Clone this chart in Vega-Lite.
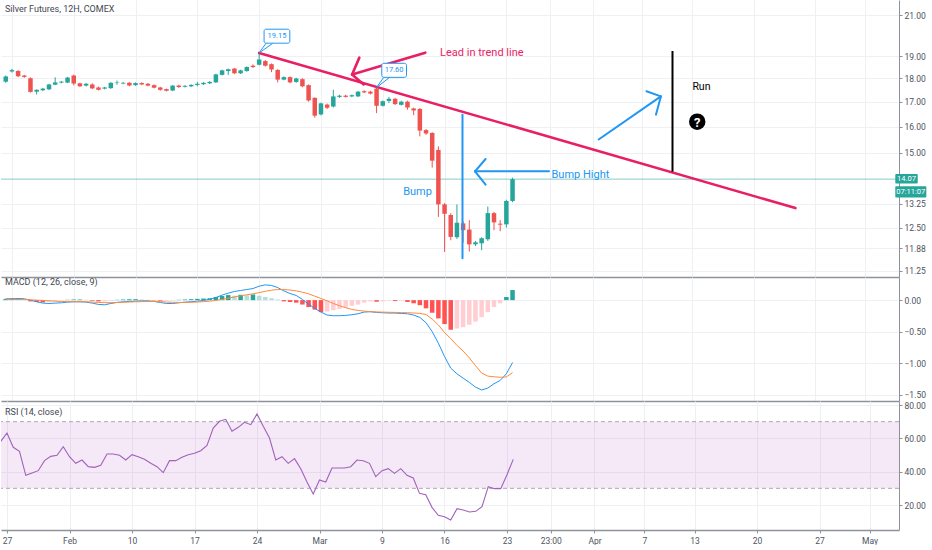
{
  "$schema": "https://vega.github.io/schema/vega-lite/v6.json",
  "background": "white",
  "padding": 0,
  "spacing": 0,
  "config": {
    "view": {"stroke": null},
    "font": "Liberation Sans Narrow, Roboto",
    "axis": {
      "labelFont": "Liberation Sans Narrow, Roboto",
      "labelFontSize": 8.5,
      "labelColor": "#50535e",
      "gridColor": "#eef0f4",
      "domainColor": "#8f929b",
      "tickColor": "#8f929b",
      "labelOverlap": false
    },
    "title": {
      "font": "Liberation Sans Narrow, Roboto",
      "fontSize": 9,
      "fontWeight": "normal",
      "color": "#434651",
      "anchor": "start",
      "frame": "group",
      "baseline": "bottom"
    },
    "text": {"font": "Liberation Sans Narrow, Roboto"}
  },
  "datasets": {
    "candles": [
      {"i": -1, "o": 17.85, "h": 18.12, "l": 17.80, "c": 18.08},
      {"i": 0, "o": 18.30, "h": 18.42, "l": 18.25, "c": 18.36},
      {"i": 1, "o": 18.32, "h": 18.36, "l": 18.05, "c": 18.09},
      {"i": 2, "o": 18.12, "h": 18.15, "l": 18.02, "c": 18.06},
      {"i": 3, "o": 18.00, "h": 18.04, "l": 17.38, "c": 17.41},
      {"i": 4, "o": 17.42, "h": 17.52, "l": 17.30, "c": 17.50},
      {"i": 5, "o": 17.48, "h": 17.58, "l": 17.44, "c": 17.55},
      {"i": 6, "o": 17.52, "h": 17.76, "l": 17.49, "c": 17.73},
      {"i": 7, "o": 17.72, "h": 18.04, "l": 17.70, "c": 17.82},
      {"i": 8, "o": 17.81, "h": 17.88, "l": 17.78, "c": 17.85},
      {"i": 9, "o": 17.81, "h": 18.06, "l": 17.79, "c": 18.03},
      {"i": 10, "o": 18.12, "h": 18.16, "l": 17.69, "c": 17.77},
      {"i": 11, "o": 17.78, "h": 17.80, "l": 17.62, "c": 17.65},
      {"i": 12, "o": 17.68, "h": 17.80, "l": 17.64, "c": 17.76},
      {"i": 13, "o": 17.73, "h": 17.78, "l": 17.53, "c": 17.56},
      {"i": 14, "o": 17.60, "h": 17.64, "l": 17.47, "c": 17.50},
      {"i": 15, "o": 17.55, "h": 17.63, "l": 17.52, "c": 17.60},
      {"i": 16, "o": 17.57, "h": 17.83, "l": 17.54, "c": 17.80},
      {"i": 17, "o": 17.79, "h": 17.90, "l": 17.72, "c": 17.81},
      {"i": 18, "o": 17.77, "h": 17.84, "l": 17.74, "c": 17.80},
      {"i": 19, "o": 17.80, "h": 17.83, "l": 17.65, "c": 17.68},
      {"i": 20, "o": 17.70, "h": 17.82, "l": 17.67, "c": 17.79},
      {"i": 21, "o": 17.79, "h": 17.82, "l": 17.70, "c": 17.73},
      {"i": 22, "o": 17.76, "h": 17.79, "l": 17.65, "c": 17.68},
      {"i": 23, "o": 17.70, "h": 17.73, "l": 17.56, "c": 17.59},
      {"i": 24, "o": 17.60, "h": 17.63, "l": 17.46, "c": 17.50},
      {"i": 25, "o": 17.53, "h": 17.55, "l": 17.43, "c": 17.46},
      {"i": 26, "o": 17.47, "h": 17.70, "l": 17.44, "c": 17.68},
      {"i": 27, "o": 17.68, "h": 17.72, "l": 17.58, "c": 17.62},
      {"i": 28, "o": 17.63, "h": 17.70, "l": 17.60, "c": 17.67},
      {"i": 29, "o": 17.65, "h": 17.74, "l": 17.62, "c": 17.71},
      {"i": 30, "o": 17.71, "h": 17.84, "l": 17.65, "c": 17.76},
      {"i": 31, "o": 17.74, "h": 17.83, "l": 17.71, "c": 17.80},
      {"i": 32, "o": 17.78, "h": 17.88, "l": 17.75, "c": 17.84},
      {"i": 33, "o": 17.82, "h": 18.20, "l": 17.80, "c": 18.17},
      {"i": 34, "o": 18.15, "h": 18.38, "l": 18.12, "c": 18.35},
      {"i": 35, "o": 18.32, "h": 18.43, "l": 18.15, "c": 18.40},
      {"i": 36, "o": 18.43, "h": 18.46, "l": 18.19, "c": 18.22},
      {"i": 37, "o": 18.22, "h": 18.38, "l": 18.19, "c": 18.35},
      {"i": 38, "o": 18.32, "h": 18.53, "l": 18.29, "c": 18.50},
      {"i": 39, "o": 18.56, "h": 18.62, "l": 18.46, "c": 18.50},
      {"i": 40, "o": 18.60, "h": 19.15, "l": 18.57, "c": 18.84},
      {"i": 41, "o": 18.77, "h": 18.82, "l": 18.52, "c": 18.56},
      {"i": 42, "o": 18.63, "h": 18.66, "l": 18.27, "c": 18.39},
      {"i": 43, "o": 18.37, "h": 18.40, "l": 17.82, "c": 17.94},
      {"i": 44, "o": 17.94, "h": 18.08, "l": 17.91, "c": 18.05},
      {"i": 45, "o": 18.05, "h": 18.08, "l": 17.78, "c": 17.82},
      {"i": 46, "o": 17.84, "h": 18.02, "l": 17.80, "c": 17.99},
      {"i": 47, "o": 17.96, "h": 18.00, "l": 17.61, "c": 17.65},
      {"i": 48, "o": 17.70, "h": 17.73, "l": 17.00, "c": 17.05},
      {"i": 49, "o": 17.16, "h": 17.18, "l": 16.35, "c": 16.43},
      {"i": 50, "o": 16.48, "h": 16.96, "l": 16.44, "c": 16.93},
      {"i": 51, "o": 16.88, "h": 16.92, "l": 16.70, "c": 16.75},
      {"i": 52, "o": 16.80, "h": 17.50, "l": 16.76, "c": 17.22},
      {"i": 53, "o": 17.20, "h": 17.29, "l": 17.16, "c": 17.25},
      {"i": 54, "o": 17.25, "h": 17.29, "l": 17.17, "c": 17.20},
      {"i": 55, "o": 17.22, "h": 17.30, "l": 17.19, "c": 17.27},
      {"i": 56, "o": 17.22, "h": 17.45, "l": 17.19, "c": 17.42},
      {"i": 57, "o": 17.44, "h": 17.48, "l": 17.36, "c": 17.39},
      {"i": 58, "o": 17.42, "h": 17.46, "l": 17.30, "c": 17.34},
      {"i": 59, "o": 17.55, "h": 17.60, "l": 16.53, "c": 16.83},
      {"i": 60, "o": 16.83, "h": 17.05, "l": 16.80, "c": 17.02},
      {"i": 61, "o": 17.03, "h": 17.20, "l": 16.94, "c": 17.12},
      {"i": 62, "o": 17.12, "h": 17.16, "l": 16.86, "c": 16.90},
      {"i": 63, "o": 16.87, "h": 17.04, "l": 16.84, "c": 17.00},
      {"i": 64, "o": 17.00, "h": 17.04, "l": 16.67, "c": 16.76},
      {"i": 65, "o": 16.72, "h": 16.75, "l": 16.45, "c": 16.64},
      {"i": 66, "o": 16.70, "h": 16.74, "l": 15.62, "c": 15.84},
      {"i": 67, "o": 15.86, "h": 15.90, "l": 15.68, "c": 15.73},
      {"i": 68, "o": 15.75, "h": 15.78, "l": 14.47, "c": 14.72},
      {"i": 69, "o": 15.11, "h": 15.24, "l": 12.83, "c": 13.23},
      {"i": 70, "o": 13.23, "h": 13.27, "l": 11.78, "c": 12.93},
      {"i": 71, "o": 12.89, "h": 12.95, "l": 12.12, "c": 12.22},
      {"i": 72, "o": 12.21, "h": 13.23, "l": 12.16, "c": 12.65},
      {"i": 73, "o": 12.63, "h": 12.70, "l": 12.05, "c": 12.42},
      {"i": 74, "o": 12.44, "h": 12.73, "l": 11.79, "c": 12.00},
      {"i": 75, "o": 12.00, "h": 12.10, "l": 11.95, "c": 12.06},
      {"i": 76, "o": 12.03, "h": 12.21, "l": 11.83, "c": 12.18},
      {"i": 77, "o": 12.15, "h": 13.16, "l": 12.10, "c": 12.95},
      {"i": 78, "o": 12.95, "h": 12.99, "l": 12.42, "c": 12.66},
      {"i": 79, "o": 12.62, "h": 12.73, "l": 12.39, "c": 12.59},
      {"i": 80, "o": 12.60, "h": 13.38, "l": 12.50, "c": 13.34},
      {"i": 81, "o": 13.34, "h": 14.12, "l": 13.30, "c": 14.07}
    ],
    "macd": [
      {"i": -1, "macd": 0.021, "signal": 0.011, "hist": 0.02},
      {"i": 0, "macd": 0.021, "signal": 0.011, "hist": 0.025},
      {"i": 1, "macd": 0.026, "signal": 0.011, "hist": 0.02},
      {"i": 2, "macd": 0.021, "signal": 0.011, "hist": 0.005},
      {"i": 3, "macd": 0, "signal": 0.005, "hist": -0.02},
      {"i": 4, "macd": -0.026, "signal": 0, "hist": -0.03},
      {"i": 5, "macd": -0.047, "signal": -0.005, "hist": -0.035},
      {"i": 6, "macd": -0.053, "signal": -0.011, "hist": -0.025},
      {"i": 7, "macd": -0.047, "signal": -0.016, "hist": -0.015},
      {"i": 8, "macd": -0.042, "signal": -0.021, "hist": -0.005},
      {"i": 9, "macd": -0.032, "signal": -0.024, "hist": 0.005},
      {"i": 10, "macd": -0.026, "signal": -0.026, "hist": 0.01},
      {"i": 11, "macd": -0.026, "signal": -0.026, "hist": 0.01},
      {"i": 12, "macd": -0.032, "signal": -0.026, "hist": 0.005},
      {"i": 13, "macd": -0.047, "signal": -0.03, "hist": -0.01},
      {"i": 14, "macd": -0.068, "signal": -0.037, "hist": -0.02},
      {"i": 15, "macd": -0.074, "signal": -0.04, "hist": -0.02},
      {"i": 16, "macd": -0.053, "signal": -0.04, "hist": -0.01},
      {"i": 17, "macd": -0.037, "signal": -0.037, "hist": 0.005},
      {"i": 18, "macd": -0.026, "signal": -0.034, "hist": 0.01},
      {"i": 19, "macd": -0.021, "signal": -0.03, "hist": 0.015},
      {"i": 20, "macd": -0.016, "signal": -0.026, "hist": 0.015},
      {"i": 21, "macd": -0.011, "signal": -0.024, "hist": 0.01},
      {"i": 22, "macd": -0.011, "signal": -0.021, "hist": 0.005},
      {"i": 23, "macd": -0.021, "signal": -0.021, "hist": -0.005},
      {"i": 24, "macd": -0.037, "signal": -0.024, "hist": -0.01},
      {"i": 25, "macd": -0.053, "signal": -0.03, "hist": -0.01},
      {"i": 26, "macd": -0.053, "signal": -0.034, "hist": -0.005},
      {"i": 27, "macd": -0.042, "signal": -0.037, "hist": 0.005},
      {"i": 28, "macd": -0.032, "signal": -0.037, "hist": 0.01},
      {"i": 29, "macd": -0.026, "signal": -0.034, "hist": 0.015},
      {"i": 30, "macd": -0.016, "signal": -0.03, "hist": 0.02},
      {"i": 31, "macd": -0.005, "signal": -0.024, "hist": 0.025},
      {"i": 32, "macd": 0.011, "signal": -0.016, "hist": 0.03},
      {"i": 33, "macd": 0.042, "signal": -0.005, "hist": 0.05},
      {"i": 34, "macd": 0.079, "signal": 0.011, "hist": 0.065},
      {"i": 35, "macd": 0.111, "signal": 0.03, "hist": 0.08},
      {"i": 36, "macd": 0.137, "signal": 0.05, "hist": 0.07},
      {"i": 37, "macd": 0.153, "signal": 0.068, "hist": 0.085},
      {"i": 38, "macd": 0.168, "signal": 0.085, "hist": 0.075},
      {"i": 39, "macd": 0.184, "signal": 0.1, "hist": 0.09},
      {"i": 40, "macd": 0.221, "signal": 0.12, "hist": 0.07},
      {"i": 41, "macd": 0.242, "signal": 0.14, "hist": 0.05},
      {"i": 42, "macd": 0.232, "signal": 0.158, "hist": 0.03},
      {"i": 43, "macd": 0.2, "signal": 0.168, "hist": 0.01},
      {"i": 44, "macd": 0.147, "signal": 0.168, "hist": -0.02},
      {"i": 45, "macd": 0.105, "signal": 0.16, "hist": -0.03},
      {"i": 46, "macd": 0.074, "signal": 0.147, "hist": -0.04},
      {"i": 47, "macd": 0.011, "signal": 0.126, "hist": -0.07},
      {"i": 48, "macd": -0.063, "signal": 0.1, "hist": -0.11},
      {"i": 49, "macd": -0.132, "signal": 0.063, "hist": -0.15},
      {"i": 50, "macd": -0.189, "signal": 0.026, "hist": -0.19},
      {"i": 51, "macd": -0.237, "signal": -0.011, "hist": -0.18},
      {"i": 52, "macd": -0.247, "signal": -0.053, "hist": -0.16},
      {"i": 53, "macd": -0.247, "signal": -0.089, "hist": -0.14},
      {"i": 54, "macd": -0.242, "signal": -0.121, "hist": -0.12},
      {"i": 55, "macd": -0.232, "signal": -0.147, "hist": -0.09},
      {"i": 56, "macd": -0.216, "signal": -0.163, "hist": -0.07},
      {"i": 57, "macd": -0.189, "signal": -0.174, "hist": -0.04},
      {"i": 58, "macd": -0.184, "signal": -0.182, "hist": -0.02},
      {"i": 59, "macd": -0.195, "signal": -0.187, "hist": -0.025},
      {"i": 60, "macd": -0.2, "signal": -0.19, "hist": -0.02},
      {"i": 61, "macd": -0.205, "signal": -0.193, "hist": -0.01},
      {"i": 62, "macd": -0.205, "signal": -0.195, "hist": -0.015},
      {"i": 63, "macd": -0.211, "signal": -0.198, "hist": -0.01},
      {"i": 64, "macd": -0.216, "signal": -0.2, "hist": -0.03},
      {"i": 65, "macd": -0.237, "signal": -0.204, "hist": -0.05},
      {"i": 66, "macd": -0.274, "signal": -0.21, "hist": -0.08},
      {"i": 67, "macd": -0.358, "signal": -0.228, "hist": -0.13},
      {"i": 68, "macd": -0.5, "signal": -0.3, "hist": -0.2},
      {"i": 69, "macd": -0.684, "signal": -0.394, "hist": -0.29},
      {"i": 70, "macd": -0.895, "signal": -0.515, "hist": -0.38},
      {"i": 71, "macd": -1.079, "signal": -0.609, "hist": -0.47},
      {"i": 72, "macd": -1.168, "signal": -0.718, "hist": -0.45},
      {"i": 73, "macd": -1.237, "signal": -0.807, "hist": -0.43},
      {"i": 74, "macd": -1.305, "signal": -0.915, "hist": -0.39},
      {"i": 75, "macd": -1.379, "signal": -1.039, "hist": -0.34},
      {"i": 76, "macd": -1.426, "signal": -1.156, "hist": -0.27},
      {"i": 77, "macd": -1.395, "signal": -1.205, "hist": -0.19},
      {"i": 78, "macd": -1.326, "signal": -1.216, "hist": -0.11},
      {"i": 79, "macd": -1.274, "signal": -1.224, "hist": -0.05},
      {"i": 80, "macd": -1.168, "signal": -1.218, "hist": 0.05},
      {"i": 81, "macd": -0.989, "signal": -1.149, "hist": 0.16}
    ],
    "rsi": [
      {"i": -1, "rsi": 58.2}, {"i": 0, "rsi": 63.2}, {"i": 1, "rsi": 54.6}, {"i": 2, "rsi": 52.2},
      {"i": 3, "rsi": 37.8}, {"i": 4, "rsi": 39.2}, {"i": 5, "rsi": 40.6}, {"i": 6, "rsi": 46.6},
      {"i": 7, "rsi": 49.2}, {"i": 8, "rsi": 49.8}, {"i": 9, "rsi": 55.0}, {"i": 10, "rsi": 49.0},
      {"i": 11, "rsi": 45.0}, {"i": 12, "rsi": 47.0}, {"i": 13, "rsi": 43.0}, {"i": 14, "rsi": 42.6},
      {"i": 15, "rsi": 43.8}, {"i": 16, "rsi": 50.6}, {"i": 17, "rsi": 50.6}, {"i": 18, "rsi": 49.8},
      {"i": 19, "rsi": 47.0}, {"i": 20, "rsi": 50.2}, {"i": 21, "rsi": 49.0}, {"i": 22, "rsi": 47.4},
      {"i": 23, "rsi": 45.0}, {"i": 24, "rsi": 43.0}, {"i": 25, "rsi": 39.4}, {"i": 26, "rsi": 46.6},
      {"i": 27, "rsi": 46.6}, {"i": 28, "rsi": 48.6}, {"i": 29, "rsi": 50.2}, {"i": 30, "rsi": 51.0},
      {"i": 31, "rsi": 52.6}, {"i": 32, "rsi": 55.8}, {"i": 33, "rsi": 66.2}, {"i": 34, "rsi": 70.2},
      {"i": 35, "rsi": 71.4}, {"i": 36, "rsi": 64.2}, {"i": 37, "rsi": 66.6}, {"i": 38, "rsi": 69.6},
      {"i": 39, "rsi": 68.2}, {"i": 40, "rsi": 74.6}, {"i": 41, "rsi": 67.2}, {"i": 42, "rsi": 60.2},
      {"i": 43, "rsi": 47.0}, {"i": 44, "rsi": 49.0}, {"i": 45, "rsi": 45.0}, {"i": 46, "rsi": 47.8},
      {"i": 47, "rsi": 41.8}, {"i": 48, "rsi": 33.8}, {"i": 49, "rsi": 26.6}, {"i": 50, "rsi": 35.0},
      {"i": 51, "rsi": 33.8}, {"i": 52, "rsi": 42.2}, {"i": 53, "rsi": 42.2}, {"i": 54, "rsi": 42.2},
      {"i": 55, "rsi": 43.0}, {"i": 56, "rsi": 47.0}, {"i": 57, "rsi": 46.6}, {"i": 58, "rsi": 45.0},
      {"i": 59, "rsi": 37.0}, {"i": 60, "rsi": 40.6}, {"i": 61, "rsi": 41.8}, {"i": 62, "rsi": 39.0},
      {"i": 63, "rsi": 41.8}, {"i": 64, "rsi": 37.8}, {"i": 65, "rsi": 36.2}, {"i": 66, "rsi": 27.0},
      {"i": 67, "rsi": 26.2}, {"i": 68, "rsi": 18.6}, {"i": 69, "rsi": 13.8}, {"i": 70, "rsi": 13.0},
      {"i": 71, "rsi": 11.0}, {"i": 72, "rsi": 17.8}, {"i": 73, "rsi": 17.0}, {"i": 74, "rsi": 15.8},
      {"i": 75, "rsi": 16.2}, {"i": 76, "rsi": 19.0}, {"i": 77, "rsi": 31.0}, {"i": 78, "rsi": 29.8},
      {"i": 79, "rsi": 29.8}, {"i": 80, "rsi": 38.2}, {"i": 81, "rsi": 47.4}
    ],
    "pinkLines": [
      {"x1": 40, "p1": 19.15, "x2": 126.77, "p2": 13.11},
      {"x1": 66.88, "p1": 19.16, "x2": 55.04, "p2": 18.17},
      {"x1": 55.04, "p1": 18.17, "x2": 56.21, "p2": 18.93},
      {"x1": 55.04, "p1": 18.17, "x2": 56.91, "p2": 17.73}
    ],
    "blueLines": [
      {"x1": 72.9, "p1": 16.47, "x2": 72.9, "p2": 11.6},
      {"x1": 74.93, "p1": 14.34, "x2": 86.9, "p2": 14.34},
      {"x1": 74.93, "p1": 14.34, "x2": 76.64, "p2": 14.78},
      {"x1": 74.93, "p1": 14.34, "x2": 76.64, "p2": 13.88},
      {"x1": 94.93, "p1": 15.5, "x2": 105.0, "p2": 17.22},
      {"x1": 105.0, "p1": 17.22, "x2": 102.67, "p2": 17.44},
      {"x1": 105.0, "p1": 17.22, "x2": 104.2, "p2": 16.47}
    ],
    "pointers": [
      {"x1": 40, "p1": 19.15, "x2": 41.12, "p2": 19.61},
      {"x1": 40, "p1": 19.15, "x2": 42.24, "p2": 19.61},
      {"x1": 59, "p1": 17.6, "x2": 60.16, "p2": 18.04},
      {"x1": 59, "p1": 17.6, "x2": 61.12, "p2": 18.04}
    ],
    "blackLines": [
      {"x1": 106.88, "p1": 19.24, "x2": 106.88, "p2": 14.33}
    ],
    "callouts": [
      {"x1": 40.8, "x2": 44.96, "p1": 20.29, "p2": 19.61, "xc": 42.88, "pc": 19.95, "label": "19.15"},
      {"x1": 59.84, "x2": 63.84, "p1": 18.67, "p2": 18.04, "xc": 61.84, "pc": 18.35, "label": "17.60"}
    ],
    "axisTags": [
      {"x1": 142.93, "x2": 146.56, "p1": 14.25, "p2": 13.92, "xt": 144.74, "pt": 14.07, "label": "14.07"},
      {"x1": 142.93, "x2": 147.95, "p1": 13.83, "p2": 13.45, "xt": 145.44, "pt": 13.64, "label": "07:11:07"}
    ]
  },
  "vconcat": [
    {
      "width": 898,
      "height": 277,
      "title": {"text": "Silver Futures, 12H, COMEX", "offset": -14, "dx": 4},
      "layer": [
        {
          "data": {"values": [{"p": 14.07}]},
          "mark": {"type": "rule", "color": "#26a69a", "opacity": 0.55, "strokeWidth": 1},
          "encoding": {
            "y": {"field": "p", "type": "quantitative", "title": null,
              "scale": {"type": "log", "domain": [11.08, 21.79], "nice": false, "zero": false},
              "axis": {"orient": "right", "values": [11.25, 11.88, 12.5, 13.25, 15, 16, 17, 18, 19, 21],
                "format": ".2f", "grid": true, "tickSize": 3, "labelPadding": 2}}
          }
        },
        {
          "data": {"name": "candles"},
          "mark": {"type": "rule", "strokeWidth": 1, "clip": true},
          "encoding": {
            "x": {"field": "i", "type": "quantitative", "title": null,
              "scale": {"domain": [-0.96, 142.72], "nice": false, "zero": false},
              "axis": {"values": [0, 10, 20, 30, 40, 50, 60, 70, 80, 87, 94, 102, 110, 120, 130, 138],
                "labels": false, "ticks": false, "grid": true, "domainWidth": 1.5}},
            "y": {"field": "l", "type": "quantitative", "title": null},
            "y2": {"field": "h"},
            "color": {"condition": {"test": "datum.c >= datum.o", "value": "#26a69a"}, "value": "#ef5350"}
          }
        },
        {
          "data": {"name": "candles"},
          "mark": {"type": "bar", "width": 4.5, "clip": true},
          "encoding": {
            "x": {"field": "i", "type": "quantitative", "title": null},
            "y": {"field": "o", "type": "quantitative", "title": null},
            "y2": {"field": "c"},
            "color": {"condition": {"test": "datum.c >= datum.o", "value": "#26a69a"}, "value": "#ef5350"}
          }
        },
        {
          "data": {"name": "pinkLines"},
          "mark": {"type": "rule", "color": "#e91e63", "strokeWidth": 2.6, "strokeCap": "round"},
          "encoding": {
            "x": {"field": "x1", "type": "quantitative", "title": null},
            "x2": {"field": "x2"},
            "y": {"field": "p1", "type": "quantitative", "title": null},
            "y2": {"field": "p2"}
          }
        },
        {
          "data": {"name": "blueLines"},
          "mark": {"type": "rule", "color": "#2196f3", "strokeWidth": 2, "strokeCap": "round"},
          "encoding": {
            "x": {"field": "x1", "type": "quantitative", "title": null},
            "x2": {"field": "x2"},
            "y": {"field": "p1", "type": "quantitative", "title": null},
            "y2": {"field": "p2"}
          }
        },
        {
          "data": {"name": "pointers"},
          "mark": {"type": "rule", "color": "#2196f3", "strokeWidth": 1},
          "encoding": {
            "x": {"field": "x1", "type": "quantitative", "title": null},
            "x2": {"field": "x2"},
            "y": {"field": "p1", "type": "quantitative", "title": null},
            "y2": {"field": "p2"}
          }
        },
        {
          "data": {"name": "blackLines"},
          "mark": {"type": "rule", "color": "#000000", "strokeWidth": 2},
          "encoding": {
            "x": {"field": "x1", "type": "quantitative", "title": null},
            "x2": {"field": "x2"},
            "y": {"field": "p1", "type": "quantitative", "title": null},
            "y2": {"field": "p2"}
          }
        },
        {
          "data": {"name": "callouts"},
          "mark": {"type": "rect", "fill": "white", "stroke": "#2196f3", "strokeWidth": 1, "cornerRadius": 2},
          "encoding": {
            "x": {"field": "x1", "type": "quantitative", "title": null},
            "x2": {"field": "x2"},
            "y": {"field": "p1", "type": "quantitative", "title": null},
            "y2": {"field": "p2"}
          }
        },
        {
          "data": {"name": "callouts"},
          "mark": {"type": "text", "color": "#2196f3", "fontSize": 7.5, "align": "center", "baseline": "middle"},
          "encoding": {
            "x": {"field": "xc", "type": "quantitative", "title": null},
            "y": {"field": "pc", "type": "quantitative", "title": null},
            "text": {"field": "label"}
          }
        },
        {
          "data": {"values": [{"x": 69.28, "p": 19.13, "label": "Lead in trend line"}]},
          "mark": {"type": "text", "color": "#e91e63", "fontSize": 11, "align": "left", "baseline": "middle"},
          "encoding": {
            "x": {"field": "x", "type": "quantitative", "title": null},
            "y": {"field": "p", "type": "quantitative", "title": null},
            "text": {"field": "label"}
          }
        },
        {
          "data": {"values": [
            {"x": 63.3, "p": 13.65, "label": "Bump"},
            {"x": 87.3, "p": 14.22, "label": "Bump Hight"}
          ]},
          "mark": {"type": "text", "color": "#2196f3", "fontSize": 11, "align": "left", "baseline": "middle"},
          "encoding": {
            "x": {"field": "x", "type": "quantitative", "title": null},
            "y": {"field": "p", "type": "quantitative", "title": null},
            "text": {"field": "label"}
          }
        },
        {
          "data": {"values": [{"x": 110.1, "p": 17.62, "label": "Run"}]},
          "mark": {"type": "text", "color": "#000000", "fontSize": 10.5, "align": "left", "baseline": "middle"},
          "encoding": {
            "x": {"field": "x", "type": "quantitative", "title": null},
            "y": {"field": "p", "type": "quantitative", "title": null},
            "text": {"field": "label"}
          }
        },
        {
          "data": {"values": [{"x": 110.88, "p": 16.19, "label": "?"}]},
          "layer": [
            {
              "mark": {"type": "point", "filled": true, "shape": "circle", "size": 270, "color": "#000000", "opacity": 1},
              "encoding": {
                "x": {"field": "x", "type": "quantitative", "title": null},
                "y": {"field": "p", "type": "quantitative", "title": null}
              }
            },
            {
              "mark": {"type": "text", "color": "white", "fontSize": 13, "fontWeight": "bold", "align": "center", "baseline": "middle", "dy": 1},
              "encoding": {
                "x": {"field": "x", "type": "quantitative", "title": null},
                "y": {"field": "p", "type": "quantitative", "title": null},
                "text": {"field": "label"}
              }
            }
          ]
        },
        {
          "data": {"name": "axisTags"},
          "mark": {"type": "rect", "fill": "#26a69a", "cornerRadius": 1},
          "encoding": {
            "x": {"field": "x1", "type": "quantitative", "title": null},
            "x2": {"field": "x2"},
            "y": {"field": "p1", "type": "quantitative", "title": null},
            "y2": {"field": "p2"}
          }
        },
        {
          "data": {"name": "axisTags"},
          "mark": {"type": "text", "color": "white", "fontSize": 7.5, "align": "center", "baseline": "middle"},
          "encoding": {
            "x": {"field": "xt", "type": "quantitative", "title": null},
            "y": {"field": "pt", "type": "quantitative", "title": null},
            "text": {"field": "label"}
          }
        }
      ]
    },
    {
      "width": 898,
      "height": 124,
      "title": {"text": "MACD (12, 26, close, 9)", "offset": -10, "dx": 4},
      "layer": [
        {
          "data": {"name": "macd"},
          "transform": [{"window": [{"op": "lag", "field": "hist", "as": "prev"}], "sort": [{"field": "i"}]}],
          "mark": {"type": "bar", "width": 4.5, "clip": true},
          "encoding": {
            "x": {"field": "i", "type": "quantitative", "title": null,
              "scale": {"domain": [-0.96, 142.72], "nice": false, "zero": false},
              "axis": {"values": [0, 10, 20, 30, 40, 50, 60, 70, 80, 87, 94, 102, 110, 120, 130, 138],
                "labels": false, "ticks": false, "grid": true, "domainWidth": 1.5}},
            "y": {"field": "hist", "type": "quantitative", "title": null,
              "scale": {"domain": [-1.6, 0.367], "nice": false},
              "axis": {"orient": "right", "values": [0, -0.5, -1, -1.5], "format": ".2f",
                "grid": true, "tickSize": 3, "labelPadding": 2}},
            "color": {
              "condition": [
                {"test": "datum.hist >= 0 && datum.hist >= datum.prev", "value": "#26a69a"},
                {"test": "datum.hist >= 0", "value": "#b2dfdb"},
                {"test": "datum.hist < datum.prev", "value": "#ff5252"}
              ],
              "value": "#ffcdd2"
            }
          }
        },
        {
          "data": {"name": "macd"},
          "mark": {"type": "line", "color": "#2196f3", "strokeWidth": 1, "clip": true},
          "encoding": {
            "x": {"field": "i", "type": "quantitative", "title": null},
            "y": {"field": "macd", "type": "quantitative", "title": null}
          }
        },
        {
          "data": {"name": "macd"},
          "mark": {"type": "line", "color": "#ff8a3d", "strokeWidth": 1, "clip": true},
          "encoding": {
            "x": {"field": "i", "type": "quantitative", "title": null},
            "y": {"field": "signal", "type": "quantitative", "title": null}
          }
        }
      ]
    },
    {
      "width": 898,
      "height": 129,
      "title": {"text": "RSI (14, close)", "offset": -16, "dx": 4},
      "layer": [
        {
          "data": {"values": [{"lo": 30, "hi": 70}]},
          "mark": {"type": "rect", "fill": "#9c27b0", "opacity": 0.1},
          "encoding": {
            "x": {"datum": -0.96, "type": "quantitative", "title": null,
              "scale": {"domain": [-0.96, 142.72], "nice": false, "zero": false},
              "axis": {"values": [0, 10, 20, 30, 40, 50, 60, 70, 80, 87, 94, 102, 110, 120, 130, 138],
                "labelExpr": "['27','Feb','10','17','24','Mar','9','16','23','23:00','Apr','7','13','20','27','May'][indexof([0,10,20,30,40,50,60,70,80,87,94,102,110,120,130,138], datum.value)]",
                "grid": true, "tickSize": 3, "labelPadding": 3, "domainWidth": 1.5}},
            "x2": {"datum": 142.72},
            "y": {"field": "lo", "type": "quantitative", "title": null,
              "scale": {"domain": [5, 82.4], "nice": false, "zero": false},
              "axis": {"orient": "right", "values": [20, 40, 60, 80], "format": ".2f",
                "grid": true, "tickSize": 3, "labelPadding": 2}},
            "y2": {"field": "hi"}
          }
        },
        {
          "data": {"values": [{"v": 70}, {"v": 30}]},
          "mark": {"type": "rule", "color": "#9598a1", "strokeWidth": 1, "strokeDash": [4, 3], "opacity": 0.8},
          "encoding": {
            "y": {"field": "v", "type": "quantitative", "title": null}
          }
        },
        {
          "data": {"name": "rsi"},
          "mark": {"type": "line", "color": "#a062bb", "strokeWidth": 1.1, "clip": true},
          "encoding": {
            "x": {"field": "i", "type": "quantitative", "title": null},
            "y": {"field": "rsi", "type": "quantitative", "title": null}
          }
        }
      ]
    }
  ]
}
